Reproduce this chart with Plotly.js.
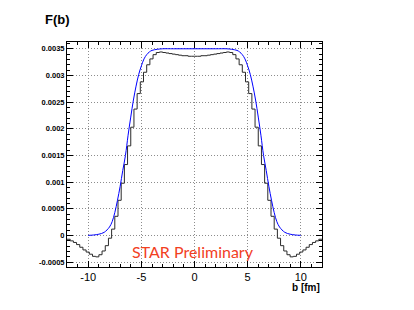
<!DOCTYPE html>
<html>
<head>
<meta charset="utf-8">
<script src="https://cdn.plot.ly/plotly-3.0.1.min.js"></script>
<style>html,body{margin:0;padding:0;background:#fff;}#chart{width:414px;height:310px;}</style>
</head>
<body>
<div id="chart"></div>
<script>
// Histogram (black): bin centers and contents
const binWidth = 0.3;
const binCenters = [
 -11.85,-11.55,-11.25,-10.95,-10.65,-10.35,-10.05,-9.75,-9.45,-9.15,
 -8.85,-8.55,-8.25,-7.95,-7.65,-7.35,-7.05,-6.75,-6.45,-6.15,
 -5.85,-5.55,-5.25,-4.95,-4.65,-4.35,-4.05,-3.75,-3.45,-3.15,
 -2.85,-2.55,-2.25,-1.95,-1.65,-1.35,-1.05,-0.75,-0.45,-0.15,
 0.15,0.45,0.75,1.05,1.35,1.65,1.95,2.25,2.55,2.85,
 3.15,3.45,3.75,4.05,4.35,4.65,4.95,5.25,5.55,5.85,
 6.15,6.45,6.75,7.05,7.35,7.65,7.95,8.25,8.55,8.85,
 9.15,9.45,9.75,10.05,10.35,10.65,10.95,11.25,11.55,11.85
];
const histValues = [
 -0.00007,-0.00010,-0.00013,-0.00017,-0.00022,-0.00027,-0.00031,-0.00035,-0.00039,-0.00040,
 -0.00036,-0.00029,-0.00019,-0.00005,0.00012,0.00036,0.00066,0.00098,0.00133,0.00168,
 0.00203,0.00237,0.00266,0.00288,0.00306,0.00320,0.00331,0.00339,0.00343,0.00344,
 0.00343,0.00342,0.00341,0.00340,0.00339,0.00338,0.00337,0.00337,0.00336,0.00336,
 0.00336,0.00336,0.00337,0.00337,0.00338,0.00339,0.00340,0.00341,0.00342,0.00343,
 0.00344,0.00343,0.00339,0.00331,0.00320,0.00306,0.00288,0.00266,0.00237,0.00203,
 0.00168,0.00133,0.00098,0.00066,0.00036,0.00012,-0.00005,-0.00019,-0.00029,-0.00036,
 -0.00040,-0.00039,-0.00035,-0.00031,-0.00027,-0.00022,-0.00017,-0.00013,-0.00010,-0.00007
];

// Smooth profile (blue)
const profileB = [
 -10,-9.5,-9,-8.5,-8,-7.75,-7.5,-7.25,-7,-6.75,-6.5,-6.25,-6,-5.75,-5.5,-5.25,-5,-4.75,-4.5,-4.25,-4,-3.5,-3,-2,-1,0,
 1,2,3,3.5,4,4.25,4.5,4.75,5,5.25,5.5,5.75,6,6.25,6.5,6.75,7,7.25,7.5,7.75,8,8.5,9,9.5,10
];
const profileF = [
 0.000003,0.00001,0.000025,0.00006,0.00016,0.00026,0.00043,0.00066,0.00092,0.00122,0.0015,0.00188,0.00222,0.00254,0.0028,0.00302,0.00318,0.00331,0.00339,0.00344,0.00347,0.00349,0.0035,0.0035,0.0035,0.0035,
 0.0035,0.0035,0.0035,0.00349,0.00347,0.00344,0.00339,0.00331,0.00318,0.00302,0.0028,0.00254,0.00222,0.00188,0.0015,0.00122,0.00092,0.00066,0.00043,0.00026,0.00016,0.00006,0.000025,0.00001,0.000003
];

const yTickVals = [-0.0005,0,0.0005,0.001,0.0015,0.002,0.0025,0.003,0.0035];
const yTickText = ["-0.0005","0","0.0005","0.001","0.0015","0.002","0.0025","0.003","0.0035"];
const xTickVals = [-10,-5,0,5,10];
const xTickText = ["-10","-5","0","5","10"];

// step-line points built from bin edges
const stepX = binCenters.map(c => c - binWidth/2);
stepX.push(binCenters[binCenters.length-1] + binWidth/2);
const stepY = histValues.slice();
stepY.push(histValues[histValues.length-1]);

const traces = [
 {x: stepX, y: stepY, type:'scatter', mode:'lines', line:{shape:'hv', color:'#2a2a2a', width:1}, hoverinfo:'skip'},
 {x: profileB, y: profileF, type:'scatter', mode:'lines', line:{shape:'spline', color:'#0000ff', width:1}, hoverinfo:'skip'}
];

const axisCommon = {
 showline:true, linecolor:'#000', linewidth:1, mirror:'allticks',
 ticks:'inside', ticklen:6, tickwidth:1, tickcolor:'#000',
 showgrid:true, gridcolor:'#8c8c8c', griddash:'1px,2px', gridwidth:1,
 zeroline:false
};

const layout = {
 width:414, height:310,
 margin:{l:67, r:92, t:42, b:43},
 paper_bgcolor:'#fff', plot_bgcolor:'#fff',
 showlegend:false,
 xaxis: Object.assign({}, axisCommon, {
   range:[-12,12], tickvals:xTickVals, ticktext:xTickText,
   tickfont:{family:'Liberation Sans, Arial', size:11, color:'#000'},
   minor:{dtick:1, tick0:0, ticks:'inside', ticklen:3, tickcolor:'#000', showgrid:false}
 }),
 yaxis: Object.assign({}, axisCommon, {
   range:[-0.00059, 0.003627], tickvals:yTickVals, ticktext:yTickText,
   tickfont:{family:'Liberation Sans, Arial', size:7.5, color:'#000', weight:'bold'},
   minor:{dtick:0.0001, tick0:0, ticks:'inside', ticklen:3, tickcolor:'#000', showgrid:false}
 }),
 annotations:[
  {text:'F(b)', xref:'paper', yref:'paper', x:-0.094, y:1.098, showarrow:false,
   xanchor:'left', yanchor:'middle', font:{family:'Liberation Sans, Arial', size:13, color:'#000', weight:'bold'}},
  {text:'b [fm]', xref:'paper', yref:'paper', x:1, y:-0.093, showarrow:false,
   xanchor:'right', yanchor:'middle', font:{family:'Liberation Sans, Arial', size:10, color:'#000', weight:'bold'}},
  {text:'STAR Preliminary', xref:'x', yref:'y', x:-0.15, y:-0.0003, showarrow:false,
   xanchor:'center', yanchor:'middle', font:{family:'Lato, Open Sans', size:16, color:'#f2401f'}}
 ]
};

Plotly.newPlot('chart', traces, layout, {displayModeBar:false, staticPlot:true});
</script>
</body>
</html>
